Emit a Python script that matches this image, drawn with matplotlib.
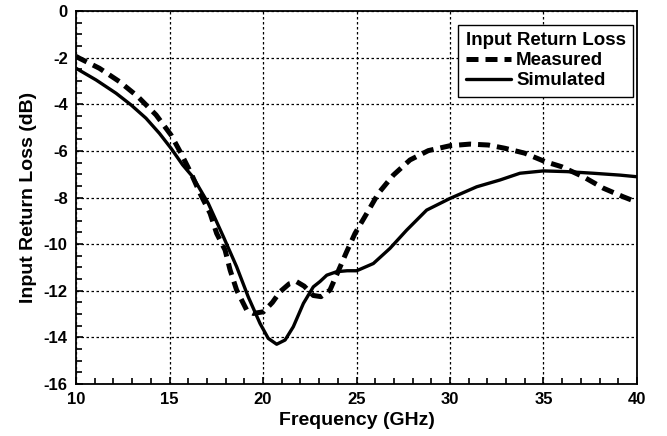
import matplotlib
matplotlib.use("Agg")
import matplotlib.pyplot as plt
from matplotlib.ticker import MultipleLocator

plt.rcParams['font.family'] = ['Liberation Sans', 'DejaVu Sans']
plt.rcParams['font.weight'] = 'bold'
plt.rcParams['axes.unicode_minus'] = False

# Measured input return loss (dB) vs frequency (GHz)
meas_f = [10.0, 10.18, 11.25, 12.32, 13.3, 14.28, 15.08, 15.61, 16.15, 16.63, 17.17, 17.52,
          17.97, 18.24, 18.59, 19.13, 19.48, 20.02, 20.5, 20.91, 21.4, 21.8, 22.2, 22.69,
          23.1, 23.58, 24.0, 24.47, 24.92, 25.55, 26.17, 26.97, 27.86, 28.84, 30.0, 31.07,
          32.05, 32.94, 34.0, 35.08, 35.97, 37.13, 38.2, 39.27, 40.0]
meas_db = [-1.95, -2.03, -2.46, -3.03, -3.67, -4.46, -5.32, -6.1, -6.96, -7.82, -8.68, -9.54,
           -10.25, -11.11, -11.97, -12.83, -12.97, -12.9, -12.5, -12.04, -11.7, -11.61, -11.8, -12.2,
           -12.25, -11.97, -11.2, -10.33, -9.54, -8.68, -7.82, -7.04, -6.39, -5.99, -5.78, -5.71,
           -5.75, -5.89, -6.1, -6.46, -6.68, -7.11, -7.6, -7.97, -8.2]

# Simulated input return loss
sim_f = [10.0, 11.07, 12.14, 12.94, 13.74, 14.46, 15.08, 15.7, 16.24, 17.07, 17.88, 18.59,
         19.21, 19.84, 20.28, 20.73, 21.18, 21.62, 22.16, 22.69, 23.05, 23.41, 23.94, 24.5,
         25.01, 25.9, 26.79, 27.68, 28.75, 30.0, 31.43, 32.67, 33.74, 34.99, 36.24, 37.66,
         39.09, 40.0]
sim_db = [-2.46, -2.96, -3.53, -4.03, -4.6, -5.25, -5.89, -6.6, -7.11, -8.25, -9.68, -10.97,
          -12.26, -13.4, -14.04, -14.29, -14.11, -13.54, -12.54, -11.83, -11.6, -11.33, -11.18, -11.14,
          -11.14, -10.83, -10.18, -9.4, -8.54, -8.04, -7.54, -7.25, -6.96, -6.86, -6.89, -6.96,
          -7.04, -7.11]

x_ticks = [10, 15, 20, 25, 30, 35, 40]
y_ticks = [0, -2, -4, -6, -8, -10, -12, -14, -16]

fig = plt.figure(figsize=(6.67, 4.36), dpi=100)
ax = fig.add_axes([0.114, 0.119, 0.841, 0.856])

ax.plot(meas_f, meas_db, color="black", lw=3.6, ls=(0, (2.4, 1.4)), label="Measured")
ax.plot(sim_f, sim_db, color="black", lw=2.4, label="Simulated",
        solid_joinstyle="round", solid_capstyle="round")

ax.set_xlim(10, 40)
ax.set_ylim(-16, 0)
ax.set_xticks(x_ticks)
ax.set_yticks(y_ticks)
ax.xaxis.set_minor_locator(MultipleLocator(1))
ax.yaxis.set_minor_locator(MultipleLocator(0.5))
ax.tick_params(which="both", direction="in", top=False, right=False, width=1.2)
ax.tick_params(which="major", length=5, labelsize=12)
ax.tick_params(axis="x", which="major", pad=6)
ax.tick_params(axis="y", which="major", pad=6)
ax.tick_params(which="minor", length=4)
for lab in ax.get_xticklabels() + ax.get_yticklabels():
    lab.set_fontweight("bold")
ax.grid(True, which="major", color="black", ls=(0, (2, 2)), lw=0.9)
for s in ax.spines.values():
    s.set_linewidth(1.3)

ax.set_xlabel("Frequency (GHz)", fontsize=14, fontweight="bold", labelpad=3)
ax.set_ylabel("Input Return Loss (dB)", fontsize=14, fontweight="bold", labelpad=5)

leg = ax.legend(title="Input Return Loss", loc="upper right", bbox_to_anchor=(0.993, 0.9625),
                fancybox=False, framealpha=1, edgecolor="black", fontsize=13.5,
                title_fontproperties={"weight": "bold", "size": 13.5},
                handlelength=2.4, handletextpad=0.3, borderpad=0.4, labelspacing=0.15,
                borderaxespad=0)
leg._legend_box.align = "left"
leg.get_frame().set_linewidth(1.0)
for t in leg.get_texts():
    t.set_fontweight("bold")

fig.savefig("out.png", dpi=100)
